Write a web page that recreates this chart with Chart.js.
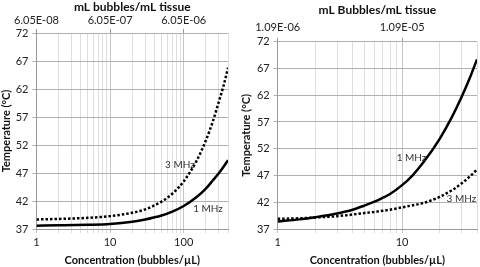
<!DOCTYPE html>
<html>
<head>
<meta charset="utf-8">
<script src="https://cdn.jsdelivr.net/npm/chart.js@4"></script>
<style>
  body { margin: 0; background: #fff; }
  .wrap { display: flex; width: 480px; height: 267px; }
  .box { position: relative; width: 240px; height: 267px; }
</style>
</head>
<body>
<div class="wrap">
  <div class="box"><canvas class="chart-1"></canvas></div>
  <div class="box"><canvas class="chart-2"></canvas></div>
</div>
<script>
// left panel: concentration (bubbles/uL) and temperature (C)
const leftConc = [1, 2, 5, 10, 20, 30, 50, 70, 100, 150, 200, 250, 300, 350, 400];
const leftOneMHz = [37.6, 37.65, 37.75, 37.9, 38.3, 38.7, 39.4, 40.1, 41.1, 42.7, 44.2, 45.7, 46.95, 48.15, 49.3];
const leftThreeMHz = [38.7, 38.8, 39.0, 39.3, 39.9, 40.5, 41.9, 43.3, 45.5, 49.2, 52.8, 56.3, 59.7, 62.7, 65.8];
const leftTopLabels = ['6.05E-08', '6.05E-07', '6.05E-06'];

// right panel
const rightConc = [1, 1.5, 2, 3, 4, 5, 6, 7, 8, 10, 12, 15, 20, 25, 30, 35, 40];
const rightOneMHz = [38.4, 38.8, 39.2, 39.9, 40.6, 41.4, 42.1, 42.85, 43.55, 45.2, 46.9, 49.6, 53.8, 57.8, 61.6, 65.2, 68.7];
const rightThreeMHz = [38.9, 39.0, 39.15, 39.4, 39.7, 40.0, 40.2, 40.4, 40.6, 41.05, 41.4, 41.9, 43.0, 44.2, 45.5, 46.8, 48.1];
const rightTopLabels = ['1.09E-06', '1.09E-05'];

const yMin = 37;
const yMax = 72;
const yStep = 5;

const fontFamily = 'Lato, "Open Sans", sans-serif';

function points(xs, ys) {
    const out = [];
    for (let i = 0; i < xs.length; i++) {
        out.push({ x: xs[i], y: ys[i] });
    }
    return out;
}

function logTicks(max) {
    const vals = [];
    for (let d = 1; d <= max; d *= 10) {
        for (let m = 1; m <= 9; m++) {
            if (m * d <= max) vals.push(m * d);
        }
    }
    return vals;
}

function isDecade(v) {
    const l = Math.log10(v);
    return Math.abs(l - Math.round(l)) < 1e-9;
}

// writes the "1 MHz" / "3 MHz" labels next to the curves and the top axis labels
const extraText = {
    id: 'extraText',
    afterDraw(chart, args, opts) {
        const ctx = chart.ctx;
        const xs = chart.scales.x;
        const ys = chart.scales.y;
        ctx.save();
        ctx.textAlign = 'center';
        ctx.textBaseline = 'middle';
        ctx.font = '10px ' + fontFamily;
        ctx.fillStyle = '#333';
        opts.items.forEach(it => {
            ctx.fillText(it.text, xs.getPixelForValue(it.x), ys.getPixelForValue(it.y));
        });
        ctx.font = '11px ' + fontFamily;
        ctx.fillStyle = '#222';
        opts.top.forEach((txt, i) => {
            ctx.fillText(txt, xs.getPixelForValue(Math.pow(10, i)), chart.chartArea.top - opts.topOffset);
        });
        ctx.restore();
    }
};

function createChart(canvas, cfg) {
    const ticks = logTicks(cfg.xMax);
    new Chart(canvas, {
        type: 'scatter',
        data: {
            datasets: [{
                label: '1 MHz',
                data: points(cfg.conc, cfg.one),
                showLine: true,
                borderColor: '#000',
                borderWidth: 2.5,
                pointRadius: 0,
                cubicInterpolationMode: 'monotone'
            }, {
                label: '3 MHz',
                data: points(cfg.conc, cfg.three),
                showLine: true,
                borderColor: '#000',
                borderWidth: 2.5,
                borderDash: [2.5, 2],
                pointRadius: 0,
                cubicInterpolationMode: 'monotone'
            }]
        },
        options: {
            responsive: true,
            maintainAspectRatio: false,
            animation: false,
            layout: { padding: { right: cfg.padRight, top: 0, left: 0, bottom: 0 } },
            plugins: {
                legend: { display: false },
                tooltip: { enabled: false },
                extraText: { items: cfg.labels, top: cfg.topLabels, topOffset: cfg.topLabelOffset }
            },
            scales: {
                x: {
                    type: 'logarithmic',
                    position: 'bottom',
                    min: 1,
                    max: cfg.xMax,
                    afterBuildTicks: s => { s.ticks = ticks.map(v => ({ value: v })); },
                    afterFit: s => { s.height = 38; },
                    ticks: {
                        autoSkip: false,
                        maxRotation: 0,
                        padding: 3,
                        color: '#222',
                        font: { family: fontFamily, size: 11 },
                        callback: v => isDecade(v) ? String(v) : ''
                    },
                    grid: {
                        color: c => (c.tick && isDecade(c.tick.value)) ? '#c4c4c4' : '#dedede',
                        lineWidth: 1,
                        tickLength: 4
                    },
                    border: { color: '#999' },
                    title: {
                        display: true,
                        text: 'Concentration (bubbles/\u00b5L)',
                        color: '#111',
                        font: { family: fontFamily, size: 11, weight: 'bold' },
                        padding: { top: 0, bottom: 0 }
                    }
                },
                x2: {
                    type: 'logarithmic',
                    position: 'top',
                    min: 1,
                    max: cfg.xMax,
                    afterBuildTicks: s => { s.ticks = ticks.filter(isDecade).map(v => ({ value: v })); },
                    afterFit: s => { s.height = cfg.topH; },
                    ticks: {
                        autoSkip: false,
                        maxRotation: 0,
                        padding: 2,
                        font: { family: fontFamily, size: 11 },
                        callback: () => ''
                    },
                    grid: { drawOnChartArea: false, color: '#999', tickLength: 4 },
                    border: { display: false },
                    title: {
                        display: true,
                        text: cfg.topTitle,
                        color: '#111',
                        font: { family: fontFamily, size: 12, weight: 'bold' },
                        padding: { top: cfg.topTitlePad, bottom: 0 }
                    }
                },
                y: {
                    min: yMin,
                    max: yMax,
                    afterFit: s => { s.width = cfg.yW; },
                    ticks: {
                        stepSize: yStep,
                        padding: 4,
                        color: '#222',
                        font: { family: fontFamily, size: 11 }
                    },
                    grid: { color: '#b0b0b0', tickLength: 4 },
                    border: { color: '#999' },
                    title: {
                        display: true,
                        text: 'Temperature (\u00b0C)',
                        color: '#111',
                        font: { family: fontFamily, size: 11, weight: 'bold' },
                        padding: { top: 0, bottom: 1 }
                    }
                }
            }
        },
        plugins: [extraText]
    });
}

createChart(document.querySelector('.chart-1'), {
    conc: leftConc,
    one: leftOneMHz,
    three: leftThreeMHz,
    xMax: 400,
    topLabels: leftTopLabels,
    topLabelOffset: 12.5,
    topTitle: 'mL bubbles/mL tissue',
    topH: 33,
    topTitlePad: 0,
    yW: 36.5,
    padRight: 12,
    labels: [{ text: '3 MHz', x: 89, y: 48.4 }, { text: '1 MHz', x: 214, y: 40.6 }]
});

createChart(document.querySelector('.chart-2'), {
    conc: rightConc,
    one: rightOneMHz,
    three: rightThreeMHz,
    xMax: 40,
    topLabels: rightTopLabels,
    topLabelOffset: 14.5,
    topTitle: 'mL Bubbles/mL tissue',
    topH: 41.7,
    topTitlePad: 3,
    yW: 37.7,
    padRight: 1,
    labels: [{ text: '1 MHz', x: 11.9, y: 50.3 }, { text: '3 MHz', x: 30, y: 42.6 }]
});
</script>
</body>
</html>
